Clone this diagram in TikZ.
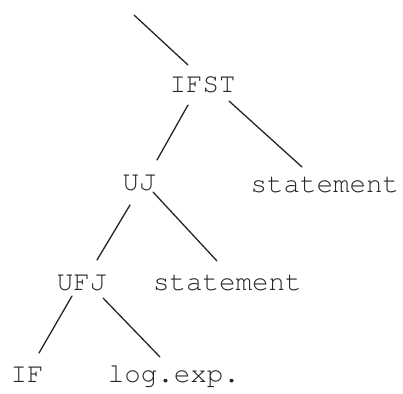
\documentclass[tikz,border=0pt]{standalone}
\usepackage[T1]{fontenc}
\usepackage{courier}
\begin{document}
\begin{tikzpicture}[x=1bp, y=-1bp,
  sym/.style={inner sep=0pt, anchor=base,
    font=\ttfamily\fontsize{27.5bp}{30bp}\selectfont, text=black!85},
  branch/.style={line width=1.3bp, draw=black!85, line cap=round}]
\useasboundingbox (0,0) rectangle (403,394);

% tree nodes, placed by their baselines
\node[sym] (ifst) at (202.5,92)  {IFST};
\node[sym] (uj)   at (139,190)   {UJ};
\node[sym] (st1)  at (325,192)   {statement};
\node[sym] (ufj)  at (81.5,290)  {UFJ};
\node[sym] (st2)  at (227.5,290) {statement};
\node[sym] (if)   at (27,382)    {IF};
\node[sym] (lexp) at (174,382)   {log.exp.};
\coordinate (up) at (134,15);

% branches
\draw[branch] (up) -- ([shift={(-14.5,-27)}]ifst.base);
\draw[branch] ([shift={(-14.5,13)}]ifst.base) -- ([shift={(18,-30)}]uj.base);
\draw[branch] ([shift={(26.5,9)}]ifst.base) -- ([shift={(-23,-25)}]st1.base);
\draw[branch] ([shift={(-9,15)}]uj.base) -- ([shift={(15.5,-30)}]ufj.base);
\draw[branch] ([shift={(14,2)}]uj.base) -- ([shift={(-10.5,-29)}]st2.base);
\draw[branch] ([shift={(-9.5,6)}]ufj.base) -- ([shift={(12,-29)}]if.base);
\draw[branch] ([shift={(21.5,8)}]ufj.base) -- ([shift={(-14,-25)}]lexp.base);
\end{tikzpicture}
\end{document}
